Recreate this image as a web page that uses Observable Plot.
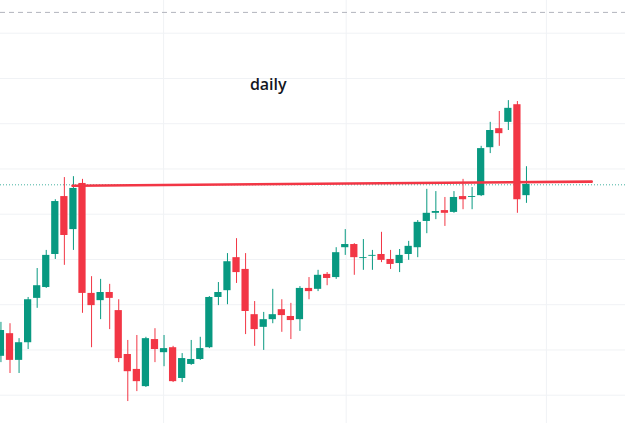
<!DOCTYPE html>
<html>
<head>
<meta charset="utf-8">
<script src="https://cdn.jsdelivr.net/npm/d3@7"></script>
<script src="https://cdn.jsdelivr.net/npm/@observablehq/plot@0.6"></script>
<style>
  html, body { margin: 0; padding: 0; background: #ffffff; overflow: hidden; }
  #chart svg { display: block; }
</style>
</head>
<body>
<div id="chart"></div>
<script>
// Daily candles (index = trading session)
const opens  = [108.6,113.6,107.7,111.6,121.4,123.8,131.1,143.9,136.6,146.8,122.5,120.9,122.7,118.7,109.0,105.7,101.9,112.3,109.4,110.5,103.7,106.8,107.9,110.5,121.6,123.1,130.4,127.8,117.8,115.0,116.7,118.9,117.4,116.7,123.6,123.4,126.7,126.0,132.6,133.3,130.2,130.7,131.1,130.0,129.1,131.1,132.6,138.4,140.2,140.8,140.4,143.9,143.7,144.1,154.7,158.9,160.3,164.2,144.1];
const highs  = [116.1,115.8,112.5,121.6,128.0,132.0,143.2,148.1,148.3,147.7,126.2,125.6,124.5,121.1,112.1,113.2,112.8,114.7,113.2,110.8,109.2,112.1,112.8,121.8,124.9,131.3,134.6,131.3,120.7,118.3,123.4,121.1,120.3,124.0,126.0,127.6,127.1,132.6,136.6,133.5,134.4,132.0,136.0,132.0,132.2,134.0,138.6,145.5,145.0,143.7,145.0,147.7,145.9,155.0,160.3,162.7,165.1,164.9,150.5];
const lows   = [107.2,104.8,104.8,110.1,119.2,123.6,130.0,128.7,132.0,118.1,110.5,116.7,114.5,107.2,98.6,100.8,101.7,107.2,106.3,102.8,102.8,106.6,107.7,110.3,119.8,120.0,124.7,113.4,110.8,109.9,115.8,113.9,112.3,114.1,121.1,122.9,124.2,125.6,130.9,126.5,127.6,127.6,129.3,127.8,127.1,129.8,130.4,135.7,138.8,137.3,140.2,141.0,141.0,143.9,153.4,155.0,158.5,140.2,142.4];
const closes = [114.3,107.7,111.6,121.1,124.2,130.9,142.8,135.3,145.7,122.5,119.8,122.7,121.4,108.1,105.2,103.0,112.5,110.1,110.3,103.0,108.1,107.9,110.3,121.6,122.7,129.5,127.1,118.5,114.5,116.7,117.8,117.6,116.5,123.6,122.9,126.5,125.8,131.5,133.3,130.4,130.4,130.9,129.8,128.9,130.9,132.9,138.2,140.2,140.6,140.2,143.7,143.2,143.9,154.5,158.5,157.8,163.4,143.2,146.6];

// Price grid levels and month-start sessions
const priceGrid = [100, 110, 120, 130, 140, 150, 160, 170, 180];
const monthStarts = [18.95, 39.1, 61.2];

// Reference levels
const lastPrice = 146.5;
const highMarker = 184.6;
const trendIdx = [8.9, 66.2];
const trendPrice = [146.3, 147.2];
const labelText = "daily";
const labelIdx = 30.5;
const labelPrice = 168.65;

const candles = opens.map((o, k) => ({
  i: k + 1, open: o, high: highs[k], low: lows[k], close: closes[k],
  up: closes[k] >= o
}));
const trend = trendIdx.map((x, k) => ({i: x, p: trendPrice[k]}));

const UP = "#089981", DOWN = "#f23645";

const chart = Plot.plot({
  width: 625,
  height: 423,
  margin: 0,
  style: {background: "#ffffff", fontFamily: "'Open Sans', sans-serif"},
  x: {type: "linear", domain: [0.951, 69.93], axis: null},
  y: {domain: [93.75, 187.23], axis: null},
  marks: [
    Plot.ruleY(priceGrid, {stroke: "#f0f2f5", strokeWidth: 1}),
    Plot.ruleX(monthStarts, {stroke: "#f0f2f5", strokeWidth: 1}),
    Plot.ruleY([highMarker], {stroke: "#b2b5be", strokeWidth: 1, strokeDasharray: "5,4"}),
    Plot.ruleY([lastPrice], {stroke: UP, strokeOpacity: 0.75, strokeWidth: 1, strokeDasharray: "1,2"}),
    Plot.ruleX(candles, {x: "i", y1: "low", y2: "high", stroke: d => d.up ? UP : DOWN, strokeWidth: 1}),
    Plot.rect(candles, {
      x1: d => d.i - 0.4, x2: d => d.i + 0.4,
      y1: "open", y2: "close",
      fill: d => d.up ? UP : DOWN
    }),
    Plot.line(trend, {x: "i", y: "p", stroke: DOWN, strokeWidth: 2.6}),
    Plot.text([labelText], {
      x: () => labelIdx, y: () => labelPrice, text: d => d,
      fontSize: 16, fontWeight: 600, fill: "#131722", textAnchor: "middle", lineAnchor: "middle"
    })
  ]
});
document.getElementById("chart").appendChild(chart);
</script>
</body>
</html>
